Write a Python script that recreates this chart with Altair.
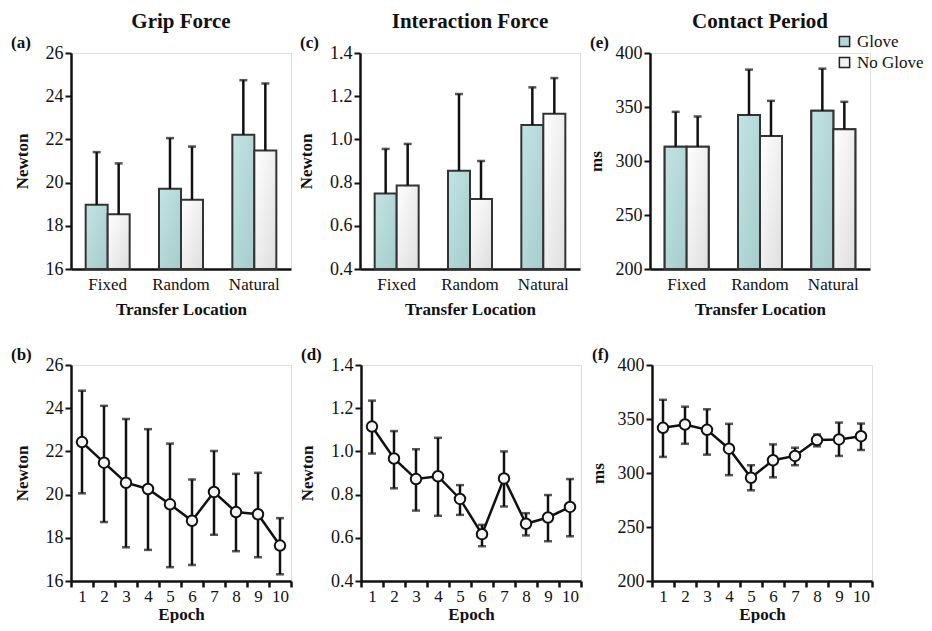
import altair as alt
import pandas as pd

# ---------------- data ----------------
locations = ["Fixed", "Random", "Natural"]
conditions = ["Glove", "No Glove"]

grip_glove = [18.98, 19.71, 22.21]
grip_glove_hi = [21.41, 22.06, 24.74]
grip_noglove = [18.53, 19.21, 21.49]
grip_noglove_hi = [20.89, 21.67, 24.59]

inter_glove = [0.750, 0.855, 1.067]
inter_glove_hi = [0.956, 1.210, 1.241]
inter_noglove = [0.787, 0.724, 1.119]
inter_noglove_hi = [0.979, 0.900, 1.284]

contact_glove = [313.2, 342.5, 346.5]
contact_glove_hi = [345.5, 384.6, 385.5]
contact_noglove = [313.2, 323.1, 329.5]
contact_noglove_hi = [341.2, 355.7, 354.8]

epochs = [1, 2, 3, 4, 5, 6, 7, 8, 9, 10]
grip_epoch = [22.43, 21.48, 20.55, 20.26, 19.55, 18.79, 20.12, 19.19, 19.09, 17.64]
grip_epoch_hi = [24.81, 24.11, 23.50, 23.03, 22.36, 20.70, 22.02, 20.96, 21.01, 18.91]
grip_epoch_lo = [20.06, 18.73, 17.56, 17.44, 16.64, 16.74, 18.14, 17.38, 17.10, 16.31]

inter_epoch = [1.115, 0.967, 0.872, 0.885, 0.780, 0.617, 0.875, 0.665, 0.694, 0.743]
inter_epoch_hi = [1.235, 1.094, 1.010, 1.063, 0.844, 0.660, 1.000, 0.714, 0.798, 0.872]
inter_epoch_lo = [0.990, 0.829, 0.726, 0.702, 0.706, 0.561, 0.745, 0.611, 0.584, 0.607]

contact_epoch = [341.8, 344.9, 340.0, 322.5, 295.6, 311.8, 315.8, 330.5, 331.1, 334.1]
contact_epoch_hi = [367.8, 361.4, 359.0, 345.5, 307.2, 326.5, 323.4, 335.7, 346.7, 345.8]
contact_epoch_lo = [314.9, 327.1, 317.0, 298.0, 284.0, 296.0, 307.2, 324.7, 315.8, 321.3]

# ---------------- style ----------------
FONT = "Liberation Serif"
INK = "#111111"
W, H = 220, 216

teal_grad = alt.Gradient(
    gradient="linear", x1=0, y1=0, x2=1, y2=1,
    stops=[alt.GradientStop(color="#c2e3e3", offset=0),
           alt.GradientStop(color="#a6cccc", offset=1)])
white_grad = alt.Gradient(
    gradient="linear", x1=0, y1=0, x2=1, y2=1,
    stops=[alt.GradientStop(color="#ffffff", offset=0),
           alt.GradientStop(color="#dedede", offset=1)])


def y_axis(title, ticks, fmt, tpad):
    return alt.Axis(title=title, values=ticks, format=fmt, grid=False,
                    domainColor=INK, domainWidth=2.5, tickColor=INK,
                    tickWidth=2, tickSize=6, labelFont=FONT, labelFontSize=18,
                    labelColor=INK, labelPadding=2, titleFont=FONT,
                    titleFontSize=17, titleFontWeight="bold", titleColor=INK,
                    titlePadding=tpad)


def label_layer(label):
    return alt.Chart(pd.DataFrame({"t": [label]})).mark_text(
        font=FONT, fontSize=17, fontWeight="bold", color=INK,
        align="left", baseline="middle").encode(
        text="t:N", x=alt.value(-60), y=alt.value(-10))


def bar_panel(g, g_hi, n, n_hi, domain, ticks, fmt, ytitle, tpad, title,
              label, legend=False):
    rows = []
    for i, loc in enumerate(locations):
        rows.append({"Location": loc, "Condition": "Glove",
                     "value": g[i], "upper": g_hi[i]})
        rows.append({"Location": loc, "Condition": "No Glove",
                     "value": n[i], "upper": n_hi[i]})
    df = pd.DataFrame(rows)
    base = alt.Chart(df).encode(
        x=alt.X("Location:N", sort=locations,
                scale=alt.Scale(paddingInner=0.4, paddingOuter=0.2),
                axis=alt.Axis(title="Transfer Location", labelAngle=0,
                              ticks=False, domainColor=INK, domainWidth=2.5,
                              labelFont=FONT, labelFontSize=17,
                              labelColor=INK, labelPadding=7,
                              titleFont=FONT, titleFontSize=17,
                              titleFontWeight="bold", titleColor=INK,
                              titlePadding=9)),
        xOffset=alt.XOffset("Condition:N", sort=conditions,
                            scale=alt.Scale(domain=conditions,
                                            paddingInner=0, paddingOuter=0)),
        y=alt.Y("value:Q", scale=alt.Scale(domain=domain, nice=False,
                                           zero=False, clamp=True),
                axis=y_axis(ytitle, ticks, fmt, tpad)),
    )
    layers = []
    if legend:
        layers.append(base.mark_bar(stroke="#333333", strokeWidth=2).encode(
            fill=alt.Fill("Condition:N", sort=conditions,
                          scale=alt.Scale(domain=conditions,
                                          range=["#b3d8d8", "#f2f2f2"]),
                          legend=alt.Legend(
                              title=None, orient="none", legendX=765,
                              legendY=-20, labelFont=FONT, labelFontSize=17,
                              labelColor=INK, symbolType="square",
                              symbolSize=105, symbolStrokeColor="#222222",
                              symbolStrokeWidth=1.5, rowPadding=3,
                              labelOffset=4))))
    layers.append(base.transform_filter(alt.datum.Condition == "Glove")
                  .mark_bar(fill=teal_grad, stroke="#333333", strokeWidth=2))
    layers.append(base.transform_filter(alt.datum.Condition == "No Glove")
                  .mark_bar(fill=white_grad, stroke="#333333", strokeWidth=2))
    layers.append(base.mark_rule(color=INK, strokeWidth=2.5).encode(
        y2="upper:Q"))
    layers.append(base.mark_tick(color=INK, size=8, thickness=2.5).encode(
        y="upper:Q"))
    layers.append(label_layer(label))
    return alt.layer(*layers).properties(
        width=W, height=H,
        title=alt.TitleParams(title, font=FONT, fontSize=21,
                              fontWeight="bold", color=INK, anchor="middle",
                              frame="group", offset=2))


def line_panel(vals, hi, lo, domain, ticks, fmt, ytitle, tpad, label):
    df = pd.DataFrame({"Epoch": epochs, "value": vals, "hi": hi, "lo": lo})
    base = alt.Chart(df).encode(
        x=alt.X("Epoch:O", sort=epochs,
                scale=alt.Scale(type="band", paddingInner=0, paddingOuter=0),
                axis=alt.Axis(title="Epoch", labelAngle=0, tickBand="extent",
                              tickSize=6, tickWidth=2.5, tickColor=INK,
                              domainColor=INK, domainWidth=2.5,
                              labelFont=FONT, labelFontSize=17,
                              labelColor=INK, labelPadding=1,
                              titleFont=FONT, titleFontSize=17,
                              titleFontWeight="bold", titleColor=INK,
                              titlePadding=2)),
        y=alt.Y("value:Q", scale=alt.Scale(domain=domain, nice=False,
                                           zero=False),
                axis=y_axis(ytitle, ticks, fmt, tpad)),
    )
    rule = base.mark_rule(color=INK, strokeWidth=2.5).encode(
        y="lo:Q", y2="hi:Q")
    cap_hi = base.mark_tick(color=INK, size=8, thickness=2.5).encode(y="hi:Q")
    cap_lo = base.mark_tick(color=INK, size=8, thickness=2.5).encode(y="lo:Q")
    line = base.mark_line(color=INK, strokeWidth=2.5)
    pts = base.mark_point(shape="circle", filled=True, fill="#f4f4f4",
                          stroke=INK, strokeWidth=2, size=110, opacity=1)
    return alt.layer(rule, cap_hi, cap_lo, line, pts,
                     label_layer(label)).properties(width=W, height=H)


a = bar_panel(grip_glove, grip_glove_hi, grip_noglove, grip_noglove_hi,
              [16, 26], [16, 18, 20, 22, 24, 26], "d", "Newton", 14,
              "Grip Force", "(a)")
c = bar_panel(inter_glove, inter_glove_hi, inter_noglove, inter_noglove_hi,
              [0.4, 1.4], [0.4, 0.6, 0.8, 1.0, 1.2, 1.4], ".1f", "Newton", 14,
              "Interaction Force", "(c)")
e = bar_panel(contact_glove, contact_glove_hi, contact_noglove,
              contact_noglove_hi, [200, 400], [200, 250, 300, 350, 400], "d",
              "ms", 10, "Contact Period", "(e)", legend=True)

b = line_panel(grip_epoch, grip_epoch_hi, grip_epoch_lo, [16, 26],
               [16, 18, 20, 22, 24, 26], "d", "Newton", 14, "(b)")
d = line_panel(inter_epoch, inter_epoch_hi, inter_epoch_lo, [0.4, 1.4],
               [0.4, 0.6, 0.8, 1.0, 1.2, 1.4], ".1f", "Newton", 14, "(d)")
f = line_panel(contact_epoch, contact_epoch_hi, contact_epoch_lo, [200, 400],
               [200, 250, 300, 350, 400], "d", "ms", 10, "(f)")

top = alt.hconcat(a, c, e, spacing=5)
bottom = alt.hconcat(b, d, f, spacing=5)

chart = alt.vconcat(top, bottom, spacing=27).configure_view(
    stroke=None).configure(
    font=FONT,
    padding={"left": 2, "top": 2, "right": 0, "bottom": 0}).configure_legend(
    labelFont=FONT)

chart.save("out.html", embed_options={"renderer": "svg", "actions": False})
